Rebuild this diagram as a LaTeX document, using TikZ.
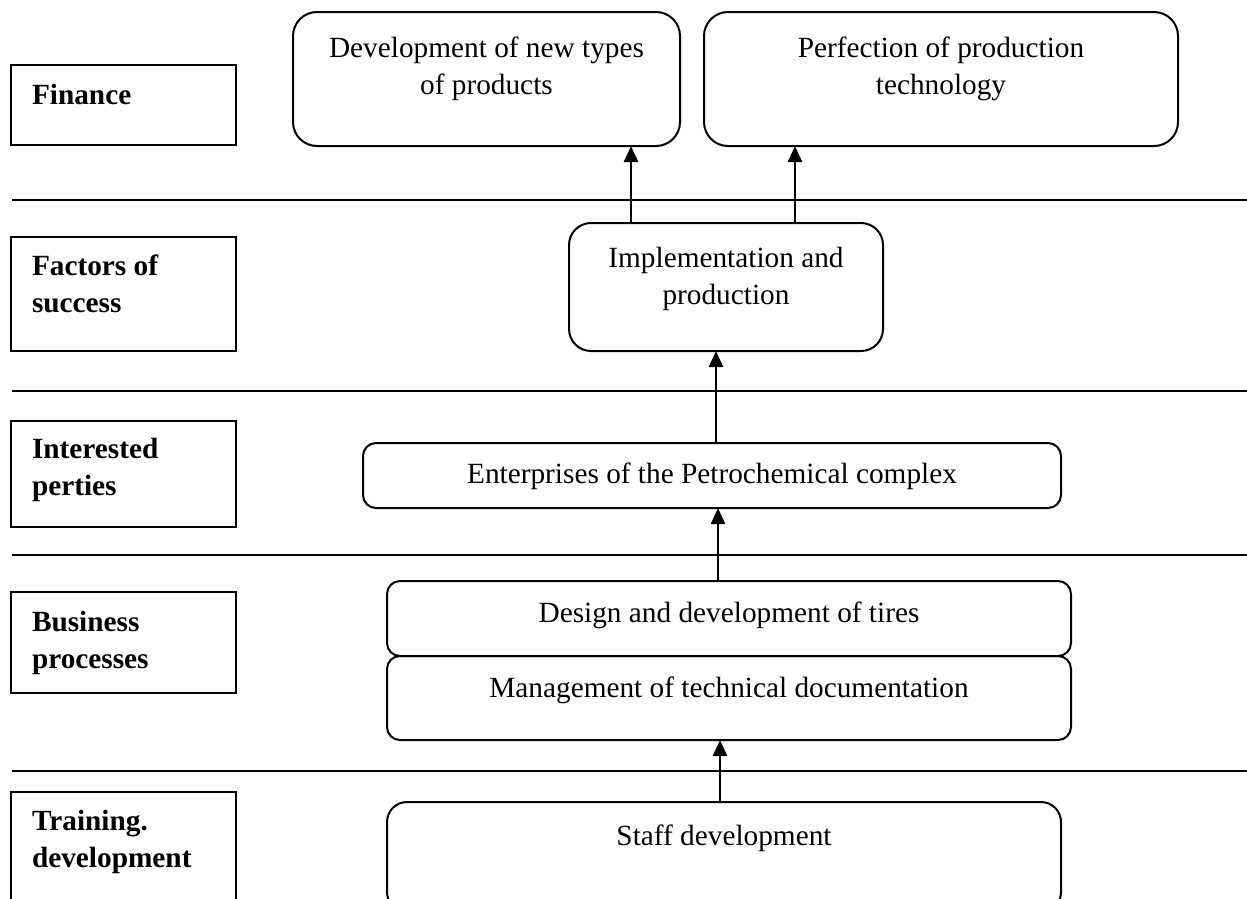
\documentclass[tikz,border=0pt]{standalone}
\usepackage{fontspec}
\setmainfont{Liberation Serif}
\usetikzlibrary{arrows.meta}
\begin{document}
\begin{tikzpicture}[x=1pt,y=-1pt,
  every node/.style={inner sep=0pt,outer sep=0pt},
  lbox/.style={draw,line width=2pt},
  rbox/.style={draw,line width=2pt,rounded corners=24pt},
  tbox/.style={draw,line width=2pt,rounded corners=13pt},
  txt/.style={font=\fontsize{29.3}{37}\selectfont,align=center},
  btxt/.style={font=\fontsize{29.3}{37}\selectfont\bfseries,align=left},
  sep/.style={line width=2pt},
  arr/.style={line width=2.6pt,-{Triangle[length=16pt,width=14pt]}}]
\useasboundingbox (0,0) rectangle (1247,898);
\clip (0,0) rectangle (1247,898);
% separator lines
\coordinate (l1a) at (12,200); \coordinate (l1b) at (1247,200);
\coordinate (l2a) at (12,391); \coordinate (l2b) at (1247,391);
\coordinate (l3a) at (12,555); \coordinate (l3b) at (1247,555);
\coordinate (l4a) at (12,771); \coordinate (l4b) at (1247,771);
\draw[sep] (l1a) -- (l1b);
\draw[sep] (l2a) -- (l2b);
\draw[sep] (l3a) -- (l3b);
\draw[sep] (l4a) -- (l4b);
% left label boxes
\node[lbox,minimum width=225pt,minimum height=80pt] (fin) at (123.5,105) {};
\node[lbox,minimum width=225pt,minimum height=114pt] (fac) at (123.5,294) {};
\node[lbox,minimum width=225pt,minimum height=106pt] (int) at (123.5,474) {};
\node[lbox,minimum width=225pt,minimum height=101pt] (bus) at (123.5,642.5) {};
\node[lbox,minimum width=225pt,minimum height=140pt] (tra) at (123.5,862) {};
\node[btxt,anchor=base west] (finT) at ([xshift=21pt,yshift=-39pt]fin.north west) {Finance};
\node[btxt,anchor=base west] (facT) at ([xshift=21pt,yshift=-75pt]fac.north west) {Factors of\\success};
\node[btxt,anchor=base west] (intT) at ([xshift=21pt,yshift=-74pt]int.north west) {Interested\\perties};
\node[btxt,anchor=base west] (busT) at ([xshift=21pt,yshift=-76pt]bus.north west) {Business\\processes};
\node[btxt,anchor=base west] (traT) at ([xshift=21pt,yshift=-75pt]tra.north west) {Training.\\development};
% right boxes
\node[rbox,minimum width=387pt,minimum height=134pt] (dev) at (486.5,79) {};
\node[rbox,minimum width=474pt,minimum height=134pt] (perf) at (941,79) {};
\node[rbox,rounded corners=22pt,minimum width=314pt,minimum height=128pt] (impl) at (726,287) {};
\node[tbox,minimum width=698pt,minimum height=65pt] (ent) at (712,475.5) {};
\node[tbox,minimum width=684pt,minimum height=75pt] (des) at (729,618.5) {};
\node[tbox,minimum width=684pt,minimum height=84pt] (man) at (729,698) {};
\node[rbox,rounded corners=20pt,minimum width=674pt,minimum height=110pt] (staff) at (724,857) {};
\node[txt,anchor=base] (devT) at ([yshift=-82pt]dev.north) {Development of new types\\of products};
\node[txt,anchor=base] (perfT) at ([yshift=-82pt]perf.north) {Perfection of production\\technology};
\node[txt,anchor=base] (implT) at ([yshift=-81pt]impl.north) {Implementation and\\production};
\node[txt,anchor=base] (entT) at ([yshift=-40pt]ent.north) {Enterprises of the Petrochemical complex};
\node[txt,anchor=base] (desT) at ([yshift=-41pt]des.north) {Design and development of tires};
\node[txt,anchor=base] (manT) at ([yshift=-41pt]man.north) {Management of technical documentation};
\node[txt,anchor=base] (staffT) at ([yshift=-43pt]staff.north) {Staff development};
% arrows
\draw[arr] ([xshift=62pt]impl.north west) -- ([xshift=62pt]impl.north west |- dev.south);
\draw[arr] ([xshift=226pt]impl.north west) -- ([xshift=226pt]impl.north west |- perf.south);
\draw[arr] ([xshift=-10pt]impl.south |- ent.north) -- ([xshift=-10pt]impl.south);
\draw[arr] ([xshift=-11pt]des.north) -- ([xshift=-11pt]des.north |- ent.south);
\draw[arr] ([xshift=-9pt]staff.north -| des.north) -- ([xshift=-9pt]man.south);
\end{tikzpicture}
\end{document}
